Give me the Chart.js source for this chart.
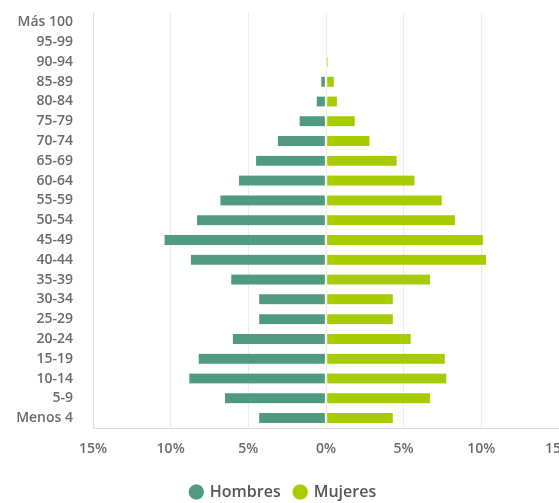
<!DOCTYPE html>
<html>
<head>
<meta charset="utf-8">
<script src="https://cdn.jsdelivr.net/npm/chart.js@4"></script>
<style>
  html, body { margin: 0; padding: 0; background: #fff; overflow: hidden; }
  #wrap { width: 600px; height: 503px; position: relative; }
</style>
</head>
<body>
<div id="wrap"><canvas id="c" width="600" height="503"></canvas></div>
<script>
const ageGroups = ["Más 100","95-99","90-94","85-89","80-84","75-79","70-74","65-69","60-64","55-59","50-54","45-49","40-44","35-39","30-34","25-29","20-24","15-19","10-14","5-9","Menos 4"];
const hombres = [0, 0, 0, 0.3, 0.6, 1.7, 3.1, 4.5, 5.6, 6.8, 8.3, 10.4, 8.7, 6.1, 4.3, 4.3, 6.0, 8.2, 8.8, 6.5, 4.3];
const mujeres = [0, 0, 0.1, 0.5, 0.7, 1.85, 2.8, 4.55, 5.7, 7.45, 8.3, 10.1, 10.3, 6.7, 4.3, 4.3, 5.45, 7.65, 7.75, 6.7, 4.3];
const xTicks = [-15, -10, -5, 0, 5, 10, 15];

const teal = '#4f9a80';
const lime = '#a6cb00';

new Chart(document.getElementById('c'), {
  type: 'bar',
  data: {
    labels: ageGroups,
    datasets: [
      { label: 'Hombres', data: hombres.map(v => v ? -v : null), backgroundColor: teal, borderColor: '#ffffff',
        borderWidth: { right: 1, left: 0, top: 0, bottom: 0 }, borderSkipped: false, barThickness: 10 },
      { label: 'Mujeres', data: mujeres.map(v => v ? v : null), backgroundColor: lime, borderColor: '#ffffff',
        borderWidth: { left: 1, right: 0, top: 0, bottom: 0 }, borderSkipped: false, barThickness: 10 }
    ]
  },
  options: {
    indexAxis: 'y',
    responsive: false,
    animation: false,
    layout: { padding: { top: 11, right: 41, left: 8, bottom: -7 } },
    scales: {
      x: {
        stacked: true,
        min: -15, max: 15,
        afterBuildTicks: s => { s.ticks = xTicks.map(v => ({ value: v })); },
        ticks: {
          callback: v => Math.abs(v) + '%',
          color: '#6a6a6a', padding: 13,
          font: { family: 'Open Sans', size: 14, weight: '600' }
        },
        grid: { color: '#ececec', drawTicks: false },
        border: { color: '#dddddd' },
        afterFit: s => { s.height = 42; }
      },
      y: {
        stacked: true,
        ticks: {
          color: '#6a6a6a', padding: 4, autoSkip: false,
          font: { family: 'Open Sans', size: 14, weight: '600' }
        },
        grid: { display: true, drawOnChartArea: false, drawTicks: true, tickLength: 16, tickColor: 'rgba(0,0,0,0)' },
        border: { color: '#dddddd' },
        afterFit: s => { s.width = 85; }
      }
    },
    plugins: {
      tooltip: { enabled: false },
      legend: {
        position: 'bottom',
        labels: {
          usePointStyle: true, pointStyle: 'circle', boxWidth: 11, boxHeight: 11,
          color: '#555', padding: 14,
          font: { family: 'Open Sans', size: 16, weight: '600' }
        }
      }
    }
  }
});
</script>
</body>
</html>
